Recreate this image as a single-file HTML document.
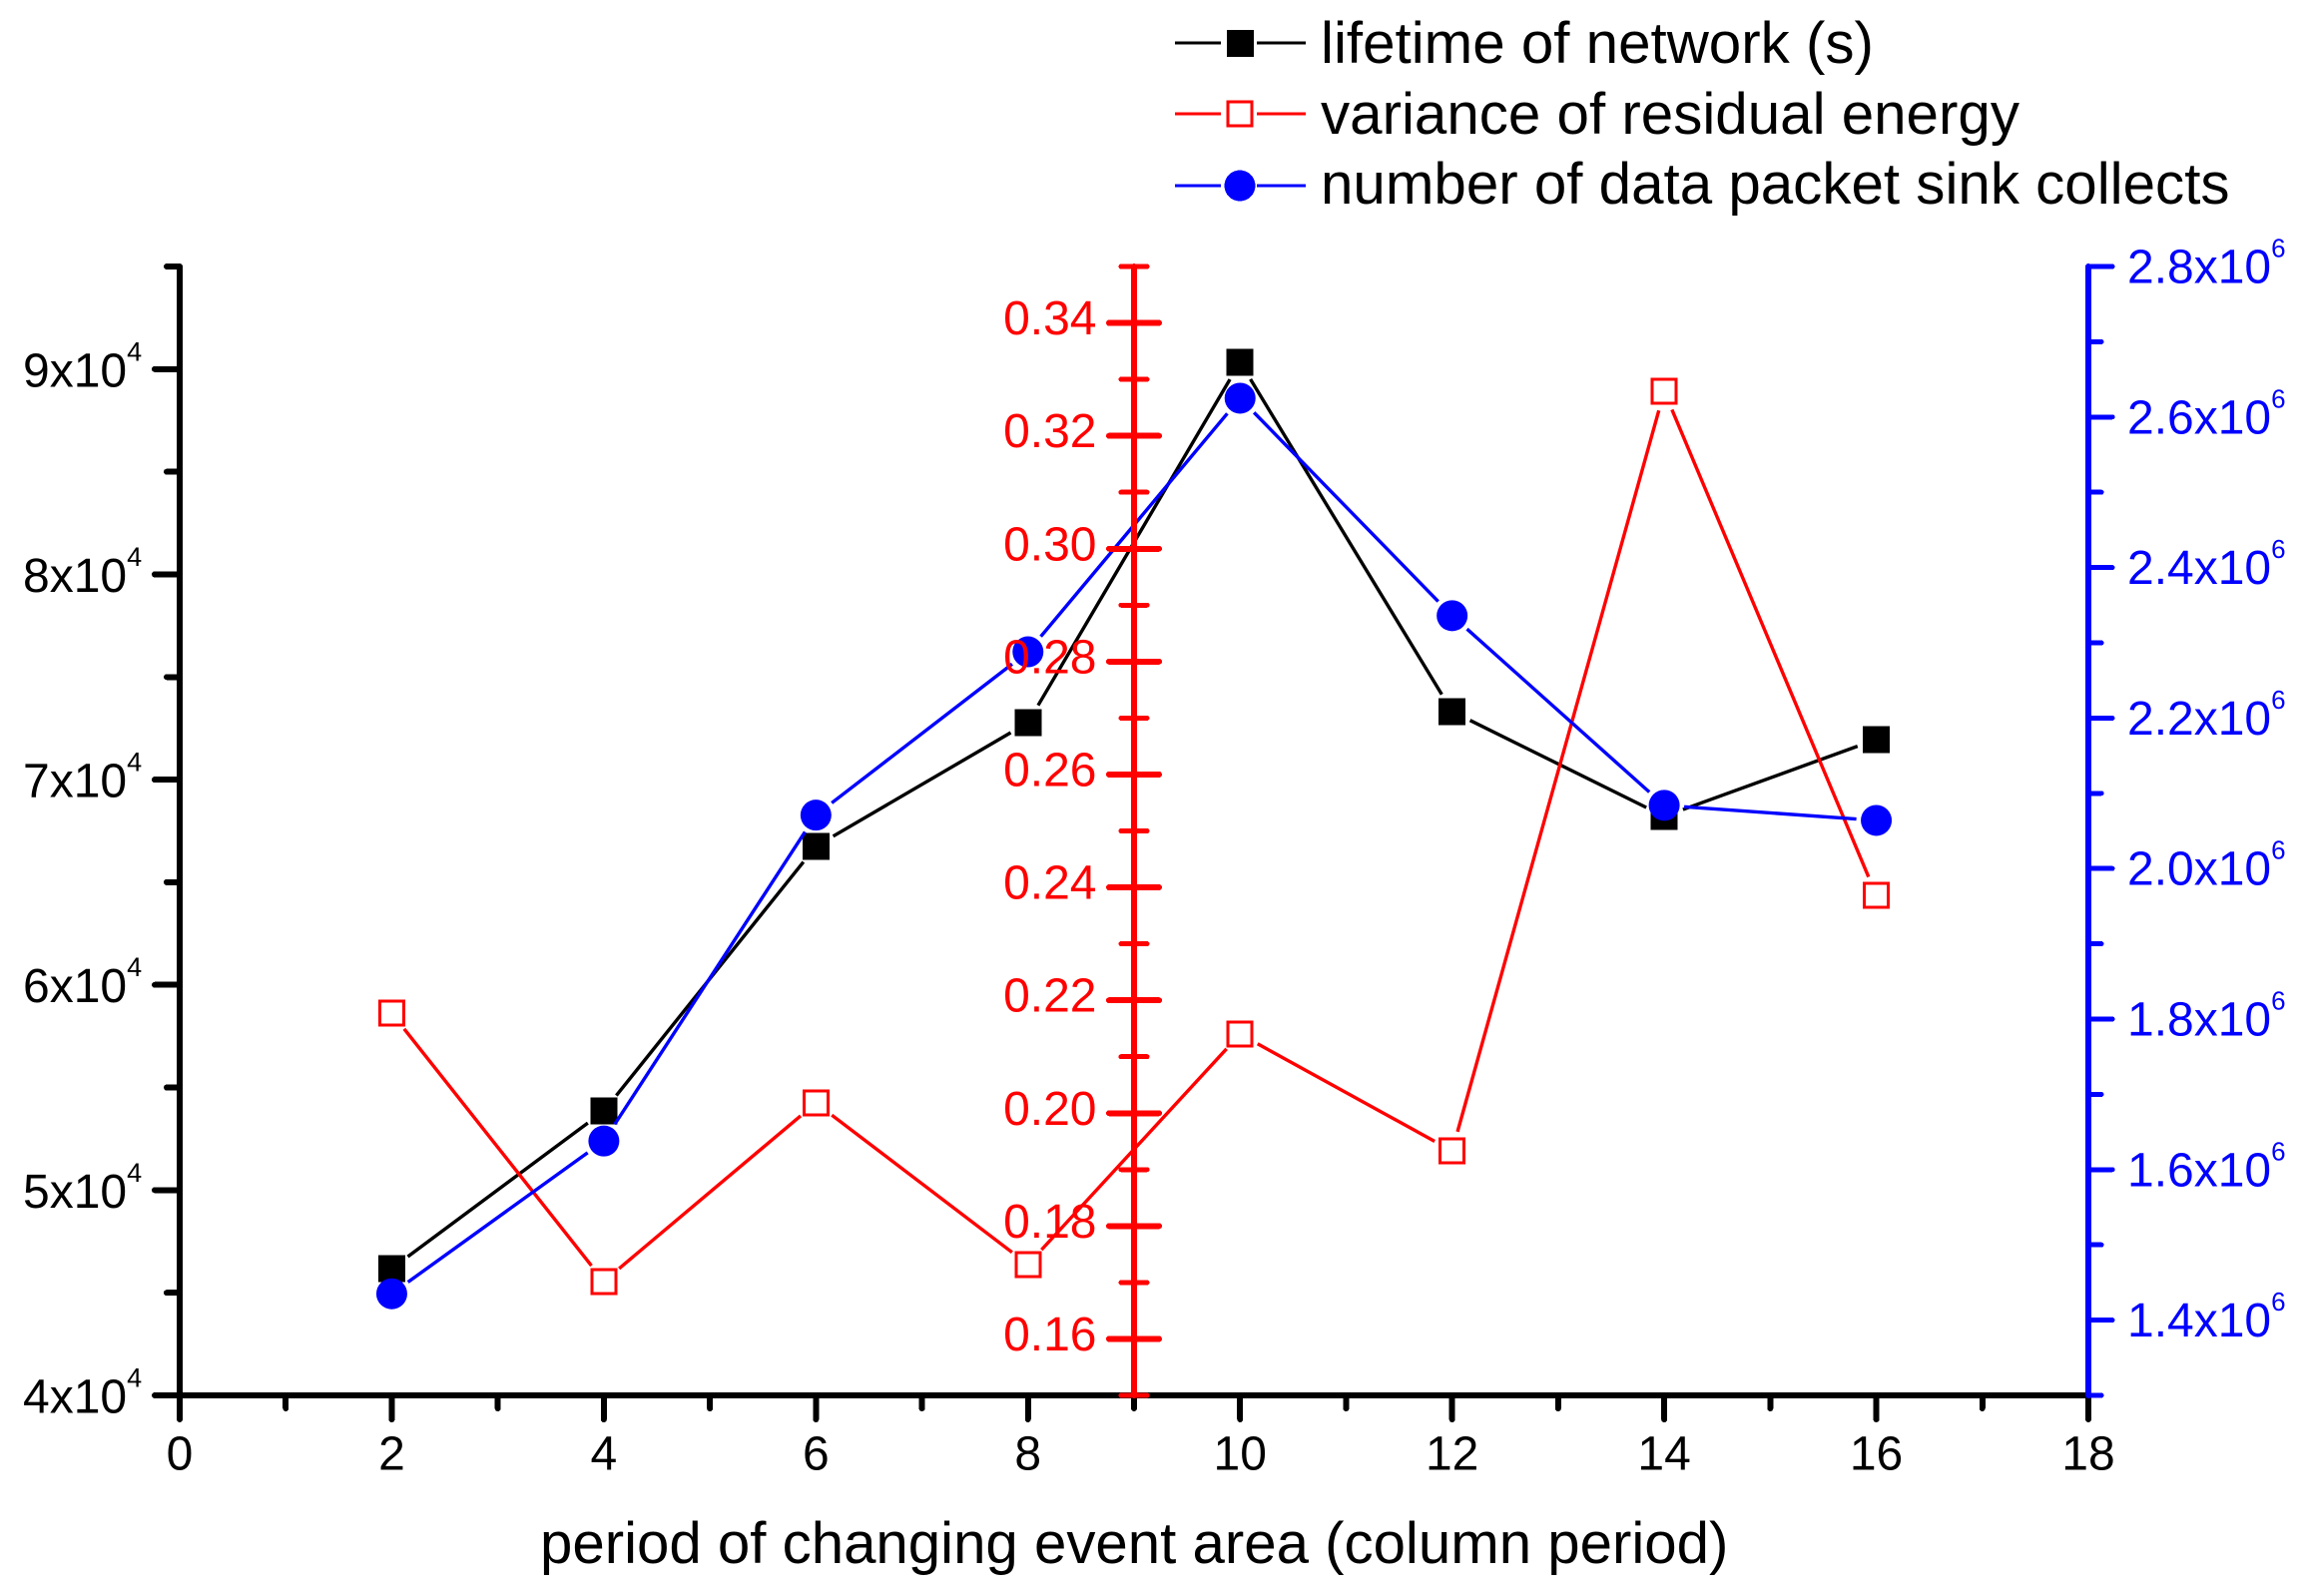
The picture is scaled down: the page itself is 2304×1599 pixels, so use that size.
<!DOCTYPE html>
<html>
<head>
<meta charset="utf-8">
<title>Network lifetime chart</title>
<style>
html,body{margin:0;padding:0;background:#fff;}
svg{display:block;}
text{font-family:"Liberation Sans",sans-serif;}
</style>
</head>
<body>
<svg id="chart" xmlns="http://www.w3.org/2000/svg" width="2304" height="1599" viewBox="0 0 2304 1599" shape-rendering="crispEdges">
  <rect x="0" y="0" width="2304" height="1599" fill="#ffffff"/>
  <g id="layer-black-axes"></g>
  <g id="layer-series"></g>
  <g id="layer-blue-axis"></g>
  <g id="layer-red-axis"></g>

  <text x="541" y="1566" font-size="58.2" fill="#000">period of changing event area (column period)</text>

  <g>
    <g>
      <line x1="1177" y1="43" x2="1223" y2="43" stroke="#000" stroke-width="3"/>
      <line x1="1259" y1="43" x2="1308" y2="43" stroke="#000" stroke-width="3"/>
      <rect x="1229" y="30" width="27" height="27" fill="#000"/>
      <text x="1323" y="63" font-size="58.3" fill="#000">lifetime of network (s)</text>
    </g>
    <g>
      <line x1="1177" y1="114" x2="1223" y2="114" stroke="#f00" stroke-width="3"/>
      <line x1="1259" y1="114" x2="1308" y2="114" stroke="#f00" stroke-width="3"/>
      <rect x="1230" y="102" width="24" height="24" fill="#fff" stroke="#f00" stroke-width="3"/>
      <text x="1323" y="134" font-size="58.3" fill="#000">variance of residual energy</text>
    </g>
    <g>
      <line x1="1177" y1="186" x2="1223" y2="186" stroke="#00f" stroke-width="3"/>
      <line x1="1259" y1="186" x2="1308" y2="186" stroke="#00f" stroke-width="3"/>
      <circle cx="1242" cy="186" r="15.5" fill="#00f"/>
      <text x="1323" y="204" font-size="58.3" fill="#000">number of data packet sink collects</text>
    </g>
  </g>
</svg>

<script>
// ---- chart data ----
const periods = [2, 4, 6, 8, 10, 12, 14, 16];
const lifetimeValues = [46180, 53850, 66750, 72780, 90340, 73320, 68210, 71960];
const varianceValues = [0.2177, 0.1702, 0.2018, 0.1732, 0.2140, 0.1933, 0.3279, 0.2386];
const packetValues = [1435000, 1638000, 2071000, 2288000, 2625000, 2336000, 2084000, 2064000];

const xTickLabels = [0, 2, 4, 6, 8, 10, 12, 14, 16, 18];
const xMinorTicks = [1, 3, 5, 7, 9, 11, 13, 15, 17];
const leftTickMantissas = [4, 5, 6, 7, 8, 9];
const leftMinorMantissas = [4.5, 5.5, 6.5, 7.5, 8.5, 9.5];
const redTickLabels = ["0.16", "0.18", "0.20", "0.22", "0.24", "0.26", "0.28", "0.30", "0.32", "0.34"];
const redMinorTicks = [0.15, 0.17, 0.19, 0.21, 0.23, 0.25, 0.27, 0.29, 0.31, 0.33, 0.35];
const rightTickLabels = ["1.4", "1.6", "1.8", "2.0", "2.2", "2.4", "2.6", "2.8"];
const rightMinorTicks = [1.3, 1.5, 1.7, 1.9, 2.1, 2.3, 2.5, 2.7];

// ---- axis functions ----
const NS = 'http://www.w3.org/2000/svg';
const plotLeft = 180, plotRight = 2092, plotTop = 267, plotBottom = 1398;
function xScale(v) { return plotLeft + (v / 18) * (plotRight - plotLeft); }
function yLeft(v) { return plotBottom - ((v - 40000) / 55000) * (plotBottom - plotTop); }
function yRed(v) { return plotBottom - ((v - 0.15) / 0.2) * (plotBottom - plotTop); }
function yRight(v) { return plotBottom - ((v - 1300000) / 1500000) * (plotBottom - plotTop); }

function makeLine(parent, x1, y1, x2, y2, color, width, round) {
  const el = document.createElementNS(NS, 'line');
  el.setAttribute('x1', x1);
  el.setAttribute('y1', y1);
  el.setAttribute('x2', x2);
  el.setAttribute('y2', y2);
  el.setAttribute('stroke', color);
  el.setAttribute('stroke-width', width);
  if (round) el.setAttribute('stroke-linecap', 'round');
  parent.appendChild(el);
  return el;
}
function makeText(parent, x, y, size, color, anchor, str) {
  const el = document.createElementNS(NS, 'text');
  el.setAttribute('x', x);
  el.setAttribute('y', y);
  el.setAttribute('font-size', size);
  el.setAttribute('fill', color);
  el.setAttribute('text-anchor', anchor);
  el.textContent = str;
  parent.appendChild(el);
  return el;
}
function addSup(textEl, str, size) {
  const sup = document.createElementNS(NS, 'tspan');
  sup.setAttribute('dy', -26);
  sup.setAttribute('font-size', size);
  sup.textContent = str;
  textEl.appendChild(sup);
}

const blackLayer = document.getElementById('layer-black-axes');
const seriesLayer = document.getElementById('layer-series');
const blueLayer = document.getElementById('layer-blue-axis');
const redLayer = document.getElementById('layer-red-axis');

// ---- bottom x axis ----
const xAxisLine = makeLine(blackLayer, plotLeft, plotBottom, plotRight, plotBottom, '#000', 6, false);


xTickLabels.forEach(function (v) {
  const t = makeLine(blackLayer, xScale(v), plotBottom, xScale(v), 1422, '#000', 6, true);
  
  
  const lbl = makeText(blackLayer, xScale(v), 1472.5, 48, '#000', 'middle', String(v));
  
  
});
xMinorTicks.forEach(function (v) {
  const t = makeLine(blackLayer, xScale(v), plotBottom, xScale(v), 1411, '#000', 6, true);
  
  
});

// ---- left y axis ----
const leftAxisLine = makeLine(blackLayer, plotLeft, plotTop, plotLeft, 1422, '#000', 6, true);


leftTickMantissas.forEach(function (m) {
  const y = yLeft(m * 10000);
  const t = makeLine(blackLayer, 155, y, plotLeft, y, '#000', 6, true);
  
  
  const lbl = makeText(blackLayer, 23, y + 17.5, 48, '#000', 'start', m + 'x10');
  addSup(lbl, '4', 27);
  
  
});
leftMinorMantissas.forEach(function (m) {
  const y = yLeft(m * 10000);
  const t = makeLine(blackLayer, 167, y, plotLeft, y, '#000', 6, true);
  
  
});

// ---- series ----
function drawSeries(name, values, yFn, color, marker) {
  const gap = 20;
  const pts = periods.map(function (p, i) { return [xScale(p), yFn(values[i])]; });
  for (let i = 0; i < pts.length - 1; i++) {
    const dx = pts[i + 1][0] - pts[i][0];
    const dy = pts[i + 1][1] - pts[i][1];
    const len = Math.sqrt(dx * dx + dy * dy);
    const ux = dx / len, uy = dy / len;
    const seg = makeLine(seriesLayer, pts[i][0] + ux * gap, pts[i][1] + uy * gap,
      pts[i + 1][0] - ux * gap, pts[i + 1][1] - uy * gap, color, 3.4, false);
    seg.setAttribute('shape-rendering', 'auto');
    
    
  }
  pts.forEach(function (pt) {
    let m;
    if (marker === 'filled-square') {
      m = document.createElementNS(NS, 'rect');
      m.setAttribute('x', pt[0] - 13.5);
      m.setAttribute('y', pt[1] - 13.5);
      m.setAttribute('width', 27);
      m.setAttribute('height', 27);
      m.setAttribute('fill', color);
    } else if (marker === 'open-square') {
      m = document.createElementNS(NS, 'rect');
      m.setAttribute('x', pt[0] - 12);
      m.setAttribute('y', pt[1] - 12);
      m.setAttribute('width', 24);
      m.setAttribute('height', 24);
      m.setAttribute('fill', 'none');
      m.setAttribute('stroke', color);
      m.setAttribute('stroke-width', 3);
    } else {
      m = document.createElementNS(NS, 'circle');
      m.setAttribute('cx', pt[0]);
      m.setAttribute('cy', pt[1]);
      m.setAttribute('r', 15.5);
      m.setAttribute('fill', color);
      m.setAttribute('shape-rendering', 'auto');
    }
    
    
    seriesLayer.appendChild(m);
  });
}
drawSeries('lifetime', lifetimeValues, yLeft, '#000000', 'filled-square');
drawSeries('variance', varianceValues, yRed, '#ff0000', 'open-square');
drawSeries('packets', packetValues, yRight, '#0000ff', 'circle');

// ---- right blue axis ----
const blueAxisLine = makeLine(blueLayer, plotRight, plotTop, plotRight, plotBottom, '#00f', 6, true);


rightTickLabels.forEach(function (s) {
  const y = yRight(parseFloat(s) * 1000000);
  const t = makeLine(blueLayer, plotRight, y, 2116, y, '#00f', 5, true);
  
  
  const lbl = makeText(blueLayer, 2131, y + 16.5, 48, '#00f', 'start', s + 'x10');
  addSup(lbl, '6', 26);
  
  
});
rightMinorTicks.forEach(function (v) {
  const y = yRight(v * 1000000);
  const t = makeLine(blueLayer, plotRight, y, 2105, y, '#00f', 5, true);
  
  
});

// ---- middle red axis ----
const redX = xScale(9);
const redAxisLine = makeLine(redLayer, redX, plotTop, redX, plotBottom, '#f00', 6, true);


redTickLabels.forEach(function (s) {
  const y = yRed(parseFloat(s));
  const t = makeLine(redLayer, redX - 25, y, redX + 25, y, '#f00', 6, true);
  
  
  const lbl = makeText(redLayer, 1098.5, y + 11.5, 48, '#f00', 'end', s);
  
  
});
redMinorTicks.forEach(function (v) {
  const y = yRed(v);
  const t = makeLine(redLayer, redX - 13, y, redX + 13, y, '#f00', 5, true);
  
  
});
</script>
</body>
</html>
